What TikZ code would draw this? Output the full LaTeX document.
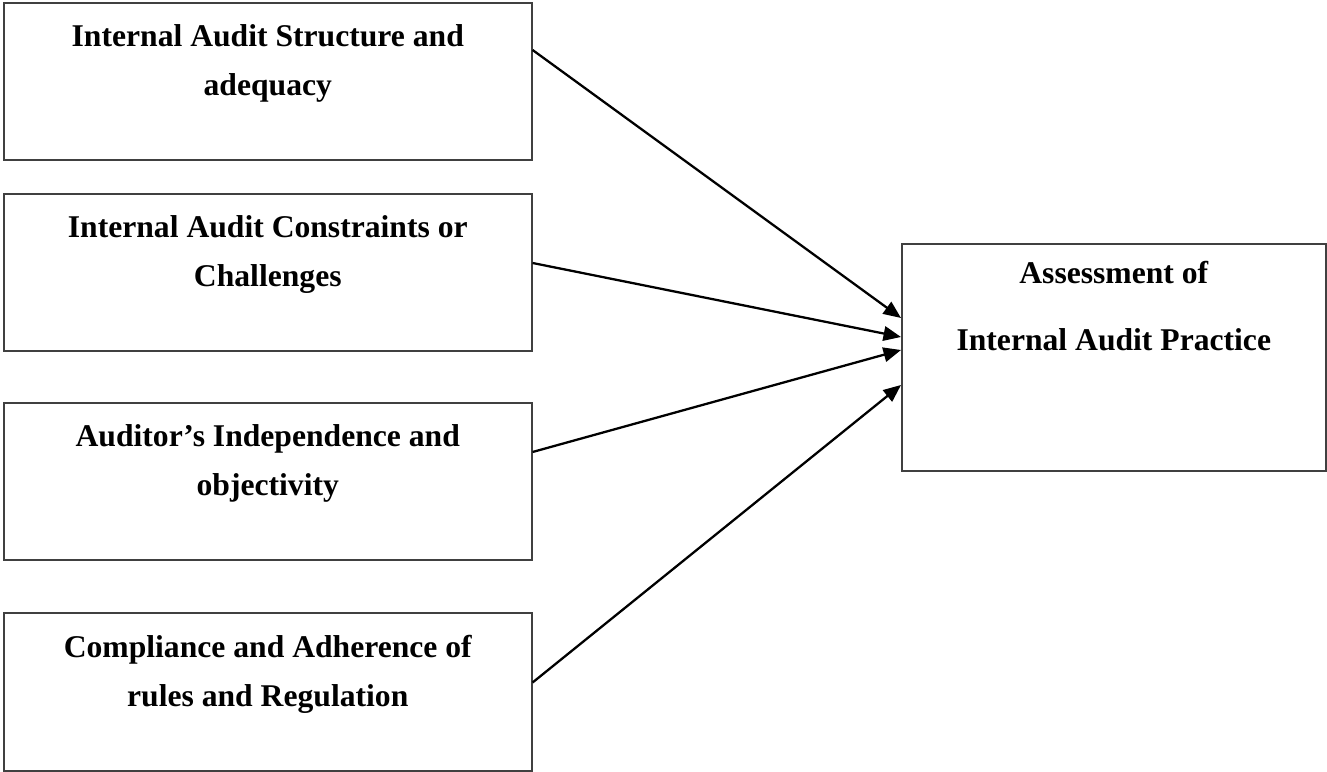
\documentclass[tikz,border=0pt]{standalone}
\usepackage{fontspec}
\setmainfont{Liberation Serif}
\usetikzlibrary{arrows.meta, positioning, calc}
\definecolor{boxgray}{HTML}{404040}

\begin{document}
\begin{tikzpicture}[
  factor/.style={draw=boxgray, line width=0.9pt, minimum width=10.56cm,
    minimum height=3.15cm, inner sep=0pt, anchor=north west},
  result/.style={draw=boxgray, line width=0.9pt, minimum width=8.48cm,
    minimum height=4.54cm, inner sep=0pt, anchor=north west},
  boxtext/.style={font=\fontsize{18}{28}\selectfont\bfseries, align=center,
    anchor=north, inner sep=0pt},
  link/.style={line width=1.3pt, -{Triangle[length=0.35cm, width=0.29cm]}}
]
  \useasboundingbox (0,0) rectangle (26.54,15.42);

  % Factor boxes (left column)
  \node[factor] (s1) at (0.06,15.38) {};
  \node[boxtext] (s1t) at ([yshift=-0.44cm]s1.north) {Internal Audit Structure and\\adequacy};

  \node[factor] (s2) at (0.06,11.56) {};
  \node[boxtext] (s2t) at ([yshift=-0.44cm]s2.north) {Internal Audit Constraints or\\Challenges};

  \node[factor] (s3) at (0.06,7.38) {};
  \node[boxtext] (s3t) at ([yshift=-0.44cm]s3.north) {Auditor’s Independence and\\objectivity};

  \node[factor] (s4) at (0.06,3.17) {};
  \node[boxtext] (s4t) at ([yshift=-0.44cm]s4.north) {Compliance and Adherence of\\rules and Regulation};

  % Outcome box
  \node[result] (ap) at (18.02,10.56) {};
  \node[boxtext] (apt) at ([yshift=-0.36cm]ap.north) {Assessment of\\[10pt]Internal Audit Practice};

  % Links into the outcome
  \draw[link] ([yshift=-0.96cm]s1.north east) -- ([yshift=-1.50cm]ap.north west);
  \draw[link] ([yshift=-1.40cm]s2.north east) -- ([yshift=-1.88cm]ap.north west);
  \draw[link] ([yshift=-1.00cm]s3.north east) -- ([yshift=-2.14cm]ap.north west);
  \draw[link] ([yshift=-1.40cm]s4.north east) -- ([yshift=-2.84cm]ap.north west);
\end{tikzpicture}
\end{document}
